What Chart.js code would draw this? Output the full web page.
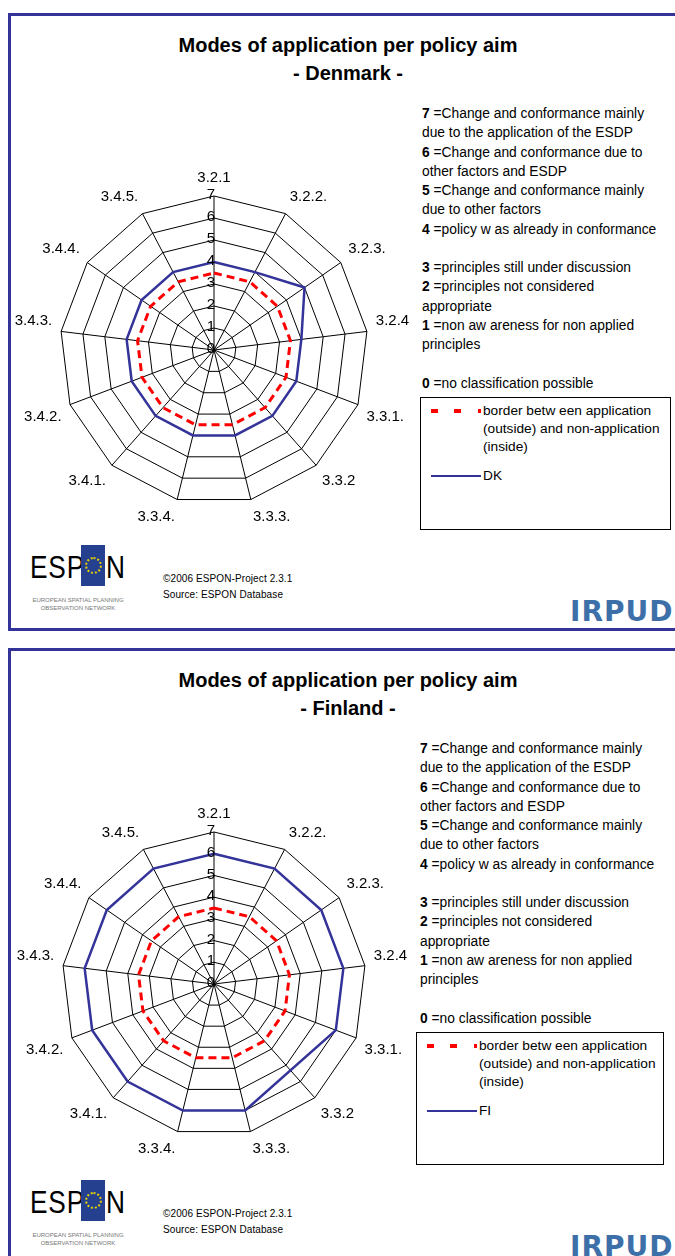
<!DOCTYPE html>
<html>
<head>
<meta charset="utf-8">
<script src="https://cdn.jsdelivr.net/npm/chart.js@4"></script>
<style>
  body { margin: 0; width: 675px; height: 1256px; overflow: hidden; background: #fff;
         font-family: "Liberation Sans", Arial, sans-serif; color: #000; position: relative; }
  .abs { position: absolute; }
  .panel { position: absolute; left: 8px; width: 720px; border: 3px solid #333399; box-sizing: border-box; }
  .title { position: absolute; left: 8px; width: 680px; text-align: center; font-weight: bold; font-size: 20px; line-height: 28px; }
  .keys { position: absolute; font-size: 13.8px; line-height: 19.25px; white-space: pre; }
  .keys b { font-weight: bold; }
  .lbox { position: absolute; border: 1px solid #000; background: #fff; font-size: 13.7px; line-height: 18px; }
  .dash { position: absolute; height: 4px; background: #ff0000; }
  .foot { position: absolute; font-size: 10px; line-height: 16px; letter-spacing: 0.1px; }
  .irpud { position: absolute; font-family: "DejaVu Sans", sans-serif; font-weight: bold; font-size: 28px; color: #3d6fa8; letter-spacing: 1px; }
  .espon { position: absolute; width: 100px; height: 70px; }
</style>
</head>
<body>
<script>
// policy aims around the radar, clockwise from the top
const categories = ['3.2.1', '3.2.2.', '3.2.3.', '3.2.4', '3.3.1.', '3.3.2', '3.3.3.', '3.3.4.', '3.4.1.', '3.4.2.', '3.4.3.', '3.4.4.', '3.4.5.'];
const tickValues = [0, 1, 2, 3, 4, 5, 6, 7];
// border between application and non-application
const borderValues = [3.5, 3.5, 3.5, 3.5, 3.5, 3.5, 3.5, 3.5, 3.5, 3.5, 3.5, 3.5, 3.5];
const dkValues = [4, 4, 5, 4, 4, 4, 4, 4, 4, 4, 4, 4, 4];
const fiValues = [6, 6, 6, 6, 6, null, 6, 6, 6, 6, 6, 6, 6];

const keyText = [
  ['7', 'Change and conformance mainly'],
  ['', 'due to the application of the ESDP'],
  ['6', 'Change and conformance due to'],
  ['', 'other factors and ESDP'],
  ['5', 'Change and conformance mainly'],
  ['', 'due to other factors'],
  ['4', 'policy w as already in conformance'],
  null,
  ['3', 'principles still under discussion'],
  ['2', 'principles not considered'],
  ['', 'appropriate'],
  ['1', 'non aw areness for non applied'],
  ['', 'principles'],
  null,
  ['0', 'no classification possible']
];

const font = '"Liberation Sans", Arial, sans-serif';

// tick numbers right-aligned against the top spoke, including 0
const tickLabels = {
  id: 'tickLabels',
  afterDatasetsDraw(chart) {
    const s = chart.scales.r;
    const ctx = chart.ctx;
    ctx.save();
    ctx.font = '15px ' + font;
    ctx.fillStyle = '#000';
    ctx.textAlign = 'right';
    ctx.textBaseline = 'middle';
    tickValues.forEach(v => {
      ctx.fillText(String(v), s.xCenter + 1, s.yCenter - s.getDistanceFromCenterForValue(v) - 1);
    });
    ctx.restore();
  }
};

function el(cls, style, html) {
  const d = document.createElement('div');
  d.className = cls;
  Object.assign(d.style, style);
  if (html !== undefined) d.innerHTML = html;
  document.body.appendChild(d);
  return d;
}

function buildPanel(dy, country, code, values, p) {
  el('panel', { top: (13 + dy) + 'px', height: '618px' });
  el('title', { top: (31 + dy) + 'px' }, 'Modes of application per policy aim<br>- ' + country + ' -');

  const lines = keyText.map(k => k ? (k[0] ? '<b>' + k[0] + ' </b>=' : '') + k[1] : '').join('\n');
  el('keys', { left: p.keyX + 'px', top: (104 + dy) + 'px' }, lines);

  const box = el('lbox', { left: p.boxX + 'px', top: (397 + dy) + 'px', width: p.boxW + 'px', height: '131px' });
  [[10, 7], [33, 7], [57, 3]].forEach(d => {
    const s = document.createElement('div');
    s.className = 'dash';
    Object.assign(s.style, { left: d[0] + 'px', width: d[1] + 'px', top: '11px' });
    box.appendChild(s);
  });
  const t1 = document.createElement('div');
  t1.className = 'abs';
  Object.assign(t1.style, { left: '62px', top: '4px', whiteSpace: 'pre' });
  t1.textContent = 'border betw een application\n(outside) and non-application\n(inside)';
  box.appendChild(t1);
  const ln = document.createElement('div');
  ln.className = 'abs';
  Object.assign(ln.style, { left: '10px', top: '77px', width: '50px', height: '2px', background: '#333399' });
  box.appendChild(ln);
  const t2 = document.createElement('div');
  t2.className = 'abs';
  Object.assign(t2.style, { left: '62px', top: '69px' });
  t2.textContent = code;
  box.appendChild(t2);

  // ESPON logo
  const logo = el('espon', { left: '28px', top: (543 + dy) + 'px' });
  logo.innerHTML =
    '<div class="abs" style="left:2px;top:6px;font-size:32px;line-height:36px;letter-spacing:1px;transform:scaleX(0.82);transform-origin:0 0;">ESP</div>' +
    '<div class="abs" style="left:53px;top:2px;width:24px;height:41px;background:#24408e;"></div>' +
    '<div class="abs" style="left:57px;top:14px;width:13px;height:13px;border:2px dotted #e8d000;border-radius:50%;"></div>' +
    '<div class="abs" style="left:78px;top:6px;font-size:32px;line-height:36px;transform:scaleX(0.82);transform-origin:0 0;">N</div>' +
    '<div class="abs" style="left:0px;top:53px;width:100px;font-size:6px;line-height:8px;color:#777;text-align:center;">EUROPEAN SPATIAL PLANNING<br>OBSERVATION NETWORK</div>';

  el('foot', { left: '163px', top: (571 + dy) + 'px' }, '©2006 ESPON-Project 2.3.1<br>Source: ESPON Database');
  el('irpud', { left: '570px', top: (595 + dy) + 'px' }, 'IRPUD');

  const wrap = el('abs', { left: '-2px', top: p.chartTop + 'px', width: '430px', height: '370px' });
  const canvas = document.createElement('canvas');
  canvas.width = 430;
  canvas.height = 370;
  wrap.appendChild(canvas);

  new Chart(canvas.getContext('2d'), {
    type: 'radar',
    data: {
      labels: categories,
      datasets: [{
        label: 'border between application (outside) and non-application (inside)',
        data: borderValues,
        borderColor: '#ff0000',
        borderWidth: 3,
        borderDash: [8, 5],
        pointRadius: 0,
        fill: false,
        tension: 0
      }, {
        label: code,
        data: values,
        borderColor: '#333399',
        borderWidth: 2.5,
        pointRadius: 0,
        fill: false,
        tension: 0,
        spanGaps: true
      }]
    },
    options: {
      responsive: false,
      animation: false,
      layout: { padding: p.padding },
      plugins: { legend: { display: false }, tooltip: { enabled: false } },
      scales: {
        r: {
          min: 0,
          max: 7,
          ticks: { stepSize: 1, display: false },
          grid: { color: '#000', lineWidth: 1, circular: false },
          angleLines: { color: '#000', lineWidth: 1 },
          pointLabels: { color: '#000', padding: 9, font: { family: font, size: 15 } }
        }
      }
    },
    plugins: [tickLabels]
  });
}

buildPanel(0, 'Denmark', 'DK', dkValues, { keyX: 422, boxX: 420, boxW: 249, chartTop: 163, padding: { left: 8, right: 10, top: 4, bottom: 4 } });
buildPanel(635, 'Finland', 'FI', fiValues, { keyX: 420, boxX: 416, boxW: 246, chartTop: 797, padding: { left: 8, right: 10, top: 6, bottom: 6 } });
</script>
</body>
</html>
